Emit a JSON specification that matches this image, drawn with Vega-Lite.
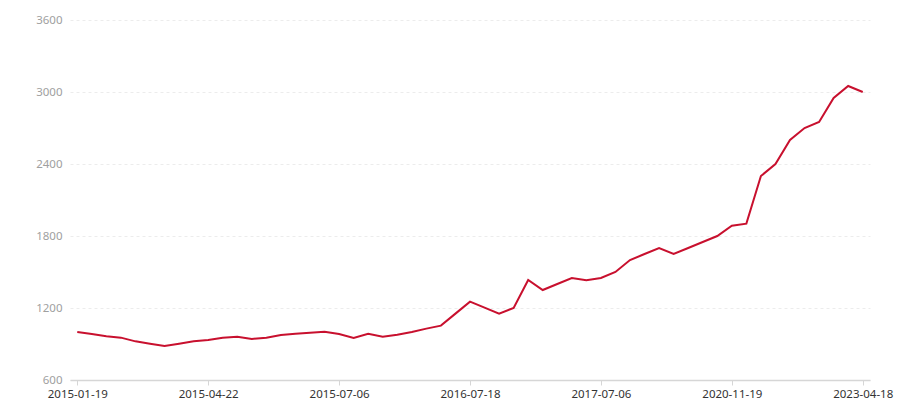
{
  "$schema": "https://vega.github.io/schema/vega-lite/v6.json",
  "width": 800,
  "height": 360,
  "autosize": {"type": "none"},
  "padding": {"left": 70, "top": 20, "right": 30, "bottom": 20},
  "background": "white",
  "config": {"view": {"stroke": null}, "font": "Noto Sans"},
  "data": {"values": [
    {"date": "2015-01-19", "value": 1000},
    {"date": "2015-01-29", "value": 983},
    {"date": "2015-02-09", "value": 964},
    {"date": "2015-02-19", "value": 953},
    {"date": "2015-03-02", "value": 922},
    {"date": "2015-03-12", "value": 903},
    {"date": "2015-03-23", "value": 883},
    {"date": "2015-04-02", "value": 903},
    {"date": "2015-04-13", "value": 922},
    {"date": "2015-04-22", "value": 933},
    {"date": "2015-04-30", "value": 953},
    {"date": "2015-05-08", "value": 961},
    {"date": "2015-05-18", "value": 942},
    {"date": "2015-05-26", "value": 953},
    {"date": "2015-06-03", "value": 975},
    {"date": "2015-06-11", "value": 986},
    {"date": "2015-06-19", "value": 994},
    {"date": "2015-06-29", "value": 1003},
    {"date": "2015-07-06", "value": 983},
    {"date": "2015-08-17", "value": 950},
    {"date": "2015-09-28", "value": 986},
    {"date": "2015-11-09", "value": 961},
    {"date": "2015-12-21", "value": 978},
    {"date": "2016-02-01", "value": 1000},
    {"date": "2016-03-14", "value": 1028},
    {"date": "2016-04-25", "value": 1053},
    {"date": "2016-06-06", "value": 1153},
    {"date": "2016-07-18", "value": 1253},
    {"date": "2016-08-26", "value": 1203},
    {"date": "2016-10-04", "value": 1153},
    {"date": "2016-11-11", "value": 1200},
    {"date": "2016-12-20", "value": 1433},
    {"date": "2017-01-27", "value": 1350},
    {"date": "2017-03-07", "value": 1400},
    {"date": "2017-04-17", "value": 1450},
    {"date": "2017-05-26", "value": 1431},
    {"date": "2017-07-06", "value": 1450},
    {"date": "2017-11-20", "value": 1500},
    {"date": "2018-04-06", "value": 1600},
    {"date": "2018-08-20", "value": 1650},
    {"date": "2019-01-04", "value": 1700},
    {"date": "2019-05-20", "value": 1650},
    {"date": "2019-10-04", "value": 1700},
    {"date": "2020-02-18", "value": 1750},
    {"date": "2020-07-03", "value": 1800},
    {"date": "2020-11-19", "value": 1886},
    {"date": "2021-02-25", "value": 1903},
    {"date": "2021-06-03", "value": 2300},
    {"date": "2021-09-09", "value": 2400},
    {"date": "2021-12-16", "value": 2600},
    {"date": "2022-03-24", "value": 2700},
    {"date": "2022-06-30", "value": 2750},
    {"date": "2022-10-06", "value": 2950},
    {"date": "2023-01-12", "value": 3050},
    {"date": "2023-04-18", "value": 3000}
  ]},
  "mark": {"type": "line", "color": "#c8102e", "strokeWidth": 2},
  "encoding": {
    "x": {
      "field": "date",
      "type": "ordinal",
      "sort": null,
      "scale": {"type": "point", "padding": 0.5},
      "axis": {
        "title": null,
        "values": ["2015-01-19", "2015-04-22", "2015-07-06", "2016-07-18", "2017-07-06", "2020-11-19", "2023-04-18"],
        "labelAngle": 0,
        "labelFontSize": 11.5,
        "labelColor": "#333333",
        "labelBaseline": "alphabetic",
        "labelPadding": 12,
        "domainColor": "#d6d6d6",
        "domainWidth": 1.5,
        "tickColor": "#d6d6d6",
        "tickSize": 5,
        "grid": false
      }
    },
    "y": {
      "field": "value",
      "type": "quantitative",
      "scale": {"domain": [600, 3600], "nice": false, "zero": false},
      "axis": {
        "title": null,
        "values": [600, 1200, 1800, 2400, 3000, 3600],
        "format": "d",
        "labelFontSize": 11.5,
        "labelColor": "#a0a0a0",
        "labelPadding": 8,
        "domain": false,
        "ticks": false,
        "grid": true,
        "gridColor": "#ececec",
        "gridDash": [3, 3],
        "gridWidth": 1
      }
    }
  }
}
